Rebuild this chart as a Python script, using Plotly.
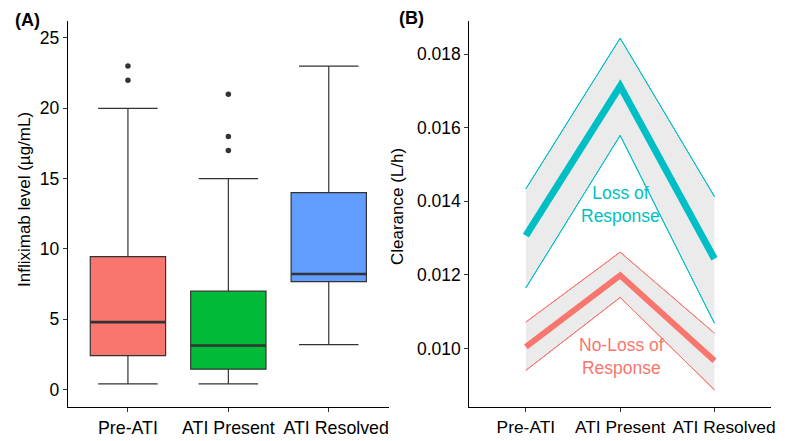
import plotly.graph_objects as go

# ---------------- data ----------------
categories = ["Pre-ATI", "ATI Present", "ATI Resolved"]
box_colors = ["#F8766D", "#00BA38", "#619CFF"]

lower_fence = [0.4, 0.4, 3.2]
q1_vals = [2.42, 1.45, 7.68]
median_vals = [4.8, 3.13, 8.22]
q3_vals = [9.45, 7.0, 14.0]
upper_fence = [20.0, 15.0, 23.0]
outliers = [[22.0, 23.0], [17.0, 18.0, 21.0], []]

# Panel B: clearance (L/h)
lor_mean = [0.01307, 0.01713, 0.01244]
lor_upper = [0.01434, 0.01843, 0.01413]
lor_lower = [0.01165, 0.01579, 0.01069]
nlor_mean = [0.01005, 0.01199, 0.00967]
nlor_upper = [0.01072, 0.01262, 0.01042]
nlor_lower = [0.00941, 0.01139, 0.00888]
clearance_ticks = [0.010, 0.012, 0.014, 0.016, 0.018]
level_ticks = [0, 5, 10, 15, 20, 25]

TEAL = "#00BFC4"
SALMON = "#F8766D"
DARK = "#333333"
FONT = "Liberation Sans, Arial, Helvetica, sans-serif"
BOX_W = 0.75

xs = list(range(len(categories)))
# last label sits slightly right of its tick in the reference (pad with non-breaking spaces)
tick_text_a = categories[:-1] + ["\u00a0" * 3 + categories[-1]]
tick_text_b = categories[:-1] + ["\u00a0" * 4 + categories[-1]]

fig = go.Figure()

# ---------------- panel A: boxplots ----------------
for i, cat in enumerate(categories):
    fig.add_trace(go.Box(
        x=[i], q1=[q1_vals[i]], median=[median_vals[i]], q3=[q3_vals[i]],
        lowerfence=[lower_fence[i]], upperfence=[upper_fence[i]],
        width=BOX_W, whiskerwidth=0.79,
        fillcolor=box_colors[i], line=dict(color=DARK, width=1.2),
        boxpoints=False, showlegend=False, hoverinfo="skip",
        xaxis="x", yaxis="y",
    ))
    # thicker median line (ggplot fatten)
    fig.add_trace(go.Scatter(
        x=[i - BOX_W / 2, i + BOX_W / 2], y=[median_vals[i], median_vals[i]],
        mode="lines", line=dict(color=DARK, width=2.6),
        showlegend=False, hoverinfo="skip", xaxis="x", yaxis="y",
    ))
    if outliers[i]:
        fig.add_trace(go.Scatter(
            x=[i] * len(outliers[i]), y=outliers[i], mode="markers",
            marker=dict(color=DARK, size=5.5),
            showlegend=False, hoverinfo="skip", xaxis="x", yaxis="y",
        ))

# ---------------- panel B: ribbons + lines ----------------
RIBBON = "#EBEBEB"
for lo, hi, col in [(lor_lower, lor_upper, TEAL), (nlor_lower, nlor_upper, SALMON)]:
    fig.add_trace(go.Scatter(x=xs, y=lo, mode="lines", line=dict(color=col, width=1),
                             showlegend=False, hoverinfo="skip", xaxis="x2", yaxis="y2"))
    fig.add_trace(go.Scatter(x=xs, y=hi, mode="lines", line=dict(color=col, width=1),
                             fill="tonexty", fillcolor=RIBBON,
                             showlegend=False, hoverinfo="skip", xaxis="x2", yaxis="y2"))
# redraw thin edges on top of fills
for arr, col in [(lor_lower, TEAL), (lor_upper, TEAL), (nlor_lower, SALMON), (nlor_upper, SALMON)]:
    fig.add_trace(go.Scatter(x=xs, y=arr, mode="lines", line=dict(color=col, width=1),
                             showlegend=False, hoverinfo="skip", xaxis="x2", yaxis="y2"))
fig.add_trace(go.Scatter(x=xs, y=lor_mean, mode="lines", line=dict(color=TEAL, width=7),
                         showlegend=False, hoverinfo="skip", xaxis="x2", yaxis="y2"))
fig.add_trace(go.Scatter(x=xs, y=nlor_mean, mode="lines", line=dict(color=SALMON, width=6),
                         showlegend=False, hoverinfo="skip", xaxis="x2", yaxis="y2"))

axis_common = dict(showline=True, linecolor="black", linewidth=1, showgrid=False,
                   zeroline=False, ticks="outside", ticklen=4, tickcolor=DARK, tickwidth=1,
                   mirror=False, automargin=False, tickangle=0)

fig.update_layout(
    width=787, height=441,
    margin=dict(l=0, r=0, t=0, b=0),
    paper_bgcolor="white", plot_bgcolor="white",
    font=dict(family=FONT, color="black"),
    xaxis=dict(domain=[0.0860, 0.4943], range=[-0.6, 2.6], tickvals=xs, ticktext=tick_text_a,
               tickfont=dict(size=17.8, color="black"), anchor="y", **axis_common),
    yaxis=dict(domain=[0.0764, 0.9531], range=[-1.26, 26.23], tickvals=level_ticks,
               tickfont=dict(size=17.5, color="black"), anchor="x", **axis_common),
    xaxis2=dict(domain=[0.5963, 0.9797], range=[-0.6, 2.6], tickvals=xs, ticktext=tick_text_b,
                tickfont=dict(size=17.4, color="black"), anchor="y2", **axis_common),
    yaxis2=dict(domain=[0.0764, 0.9531], range=[0.008407, 0.018905], tickvals=clearance_ticks,
                tickformat=".3f", tickfont=dict(size=17.5, color="black"), anchor="x2", **axis_common),
    annotations=[
        dict(text="<b>(A)</b>", x=13 / 787, y=1 - 20 / 441, xref="paper", yref="paper",
             xanchor="left", yanchor="middle", showarrow=False, font=dict(size=18)),
        dict(text="<b>(B)</b>", x=397 / 787, y=1 - 18 / 441, xref="paper", yref="paper",
             xanchor="left", yanchor="middle", showarrow=False, font=dict(size=18)),
        dict(text="Infliximab level (µg/mL)", x=24 / 787, y=1 - 200 / 441, xref="paper",
             yref="paper", textangle=-90, showarrow=False, font=dict(size=17),
             xanchor="center", yanchor="middle"),
        dict(text="Clearance (L/h)", x=397 / 787, y=1 - 207 / 441, xref="paper",
             yref="paper", textangle=-90, showarrow=False, font=dict(size=17),
             xanchor="center", yanchor="middle"),
        dict(text="Loss of<br>Response", x=620 / 787, y=1 - 204 / 441, xref="paper",
             yref="paper", showarrow=False, font=dict(size=17.5, color=TEAL),
             xanchor="center", yanchor="middle"),
        dict(text="No-Loss of<br>Response", x=621 / 787, y=1 - 356 / 441, xref="paper",
             yref="paper", showarrow=False, font=dict(size=17.5, color=SALMON),
             xanchor="center", yanchor="middle"),
    ],
)

fig.write_html("out.html")
